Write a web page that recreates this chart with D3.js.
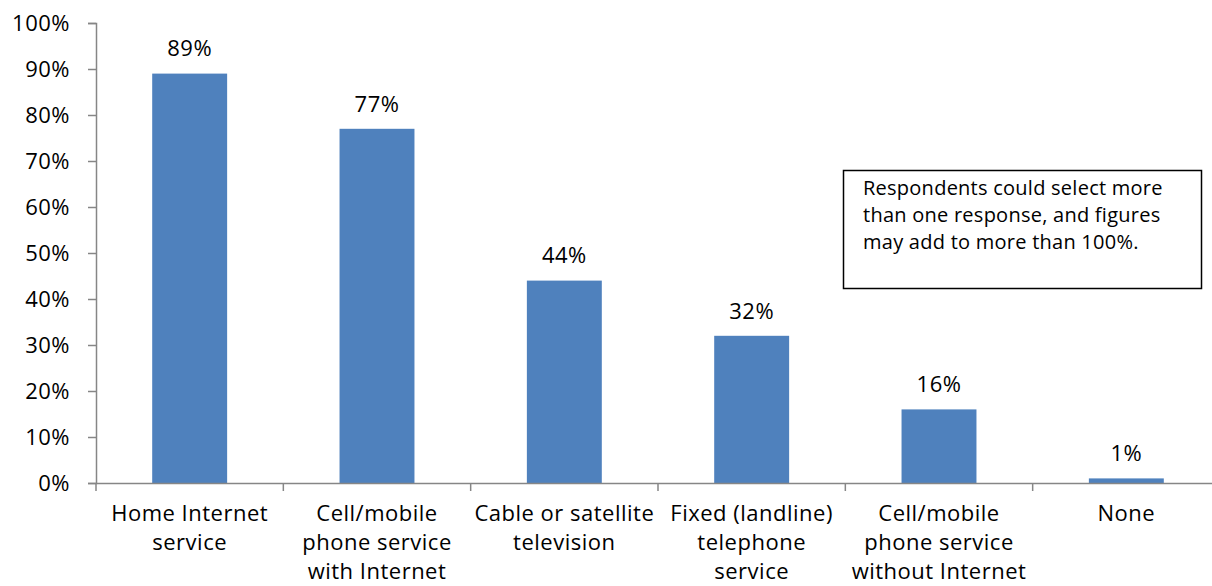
<!DOCTYPE html>
<html>
<head>
<meta charset="utf-8">
<script src="https://cdn.jsdelivr.net/npm/d3@7"></script>
<style>
  html, body { margin: 0; padding: 0; background: #fff; }
  svg { display: block; }
  text { font-family: "Open Sans", "Noto Sans", sans-serif; fill: #000; }
</style>
</head>
<body>
<svg id="chart" width="1212" height="586"></svg>
<script>
// Services used, share of respondents
const categories = [
  ["Home Internet", "service"],
  ["Cell/mobile", "phone service", "with Internet"],
  ["Cable or satellite", "television"],
  ["Fixed (landline)", "telephone", "service"],
  ["Cell/mobile", "phone service", "without Internet"],
  ["None"]
];
const values = [89, 77, 44, 32, 16, 1];
const yTicks = [0, 10, 20, 30, 40, 50, 60, 70, 80, 90, 100];
const noteLines = [
  "Respondents could select more",
  "than one response, and figures",
  "may add to more than 100%."
];

const svg = d3.select("#chart");
const plotLeft = 96, plotRight = 1220, plotTop = 23, plotBottom = 483;

const x = d3.scaleBand()
  .domain(d3.range(categories.length))
  .range([plotLeft, plotRight])
  .padding(0);

const y = d3.scaleLinear().domain([0, 100]).range([plotBottom, plotTop]);

const axisColor = "#868686";
const labelSize = "22px";
const labelSpacing = "0.5px";

// Y axis
const yAxis = d3.axisLeft(y)
  .tickValues(yTicks)
  .tickSize(8)
  .tickPadding(18)
  .tickFormat(d => d + "%");
const gy = svg.append("g").attr("transform", `translate(${plotLeft},0)`).call(yAxis);
gy.select(".domain").attr("stroke", axisColor).attr("stroke-width", 1.5);
gy.selectAll(".tick line").attr("stroke", axisColor).attr("stroke-width", 1.5);
gy.selectAll(".tick text")
  .style("font-size", labelSize)
  .style("font-family", "'Open Sans', sans-serif")
  .style("letter-spacing", labelSpacing)
  .attr("fill", "#000");

// Bars
const barW = x.bandwidth() * 0.4;
svg.append("g").selectAll("rect")
  .data(values)
  .join("rect")
  .attr("x", (d, i) => x(i) + (x.bandwidth() - barW) / 2)
  .attr("y", d => y(d))
  .attr("width", barW)
  .attr("height", d => y(0) - y(d))
  .attr("fill", "#4F81BD");

// Value labels
svg.append("g").selectAll("text")
  .data(values)
  .join("text")
  .attr("x", (d, i) => x(i) + x.bandwidth() / 2)
  .attr("y", d => y(d) - 25)
  .attr("dy", "0.35em")
  .attr("text-anchor", "middle")
  .style("font-size", labelSize)
  .style("letter-spacing", labelSpacing)
  .text(d => d + "%");

// X axis
const xAxis = d3.axisBottom(x).tickSize(0).tickFormat("");
const gx = svg.append("g").attr("transform", `translate(0,${plotBottom})`).call(xAxis);
gx.select(".domain").attr("stroke", axisColor).attr("stroke-width", 1.5);
gx.selectAll(".tick").remove();

// Category separators
const seps = d3.range(categories.length + 1).map(i => plotLeft + i * x.step());
svg.append("g").selectAll("line")
  .data(seps)
  .join("line")
  .attr("x1", d => d).attr("x2", d => d)
  .attr("y1", plotBottom).attr("y2", plotBottom + 8)
  .attr("stroke", axisColor).attr("stroke-width", 1.5);

// Category labels
const catG = svg.append("g").selectAll("text")
  .data(categories)
  .join("text")
  .attr("text-anchor", "middle")
  .attr("x", (d, i) => x(i) + x.bandwidth() / 2)
  .style("font-size", labelSize)
  .style("letter-spacing", labelSpacing);
catG.selectAll("tspan")
  .data(d => d)
  .join("tspan")
  .attr("x", function () { return d3.select(this.parentNode).attr("x"); })
  .attr("y", (d, j) => 513 + j * 29)
  .attr("dy", "0.35em")
  .text(d => d);

// Note box
svg.append("rect")
  .attr("x", 843.5).attr("y", 170.5)
  .attr("width", 358).attr("height", 118)
  .attr("fill", "#fff").attr("stroke", "#000").attr("stroke-width", 1.5);
svg.append("g").selectAll("text")
  .data(noteLines)
  .join("text")
  .attr("x", 863)
  .attr("y", (d, i) => 188 + i * 27)
  .attr("dy", "0.35em")
  .style("font-size", "20px")
  .style("letter-spacing", "0.25px")
  .text(d => d);
</script>
</body>
</html>
